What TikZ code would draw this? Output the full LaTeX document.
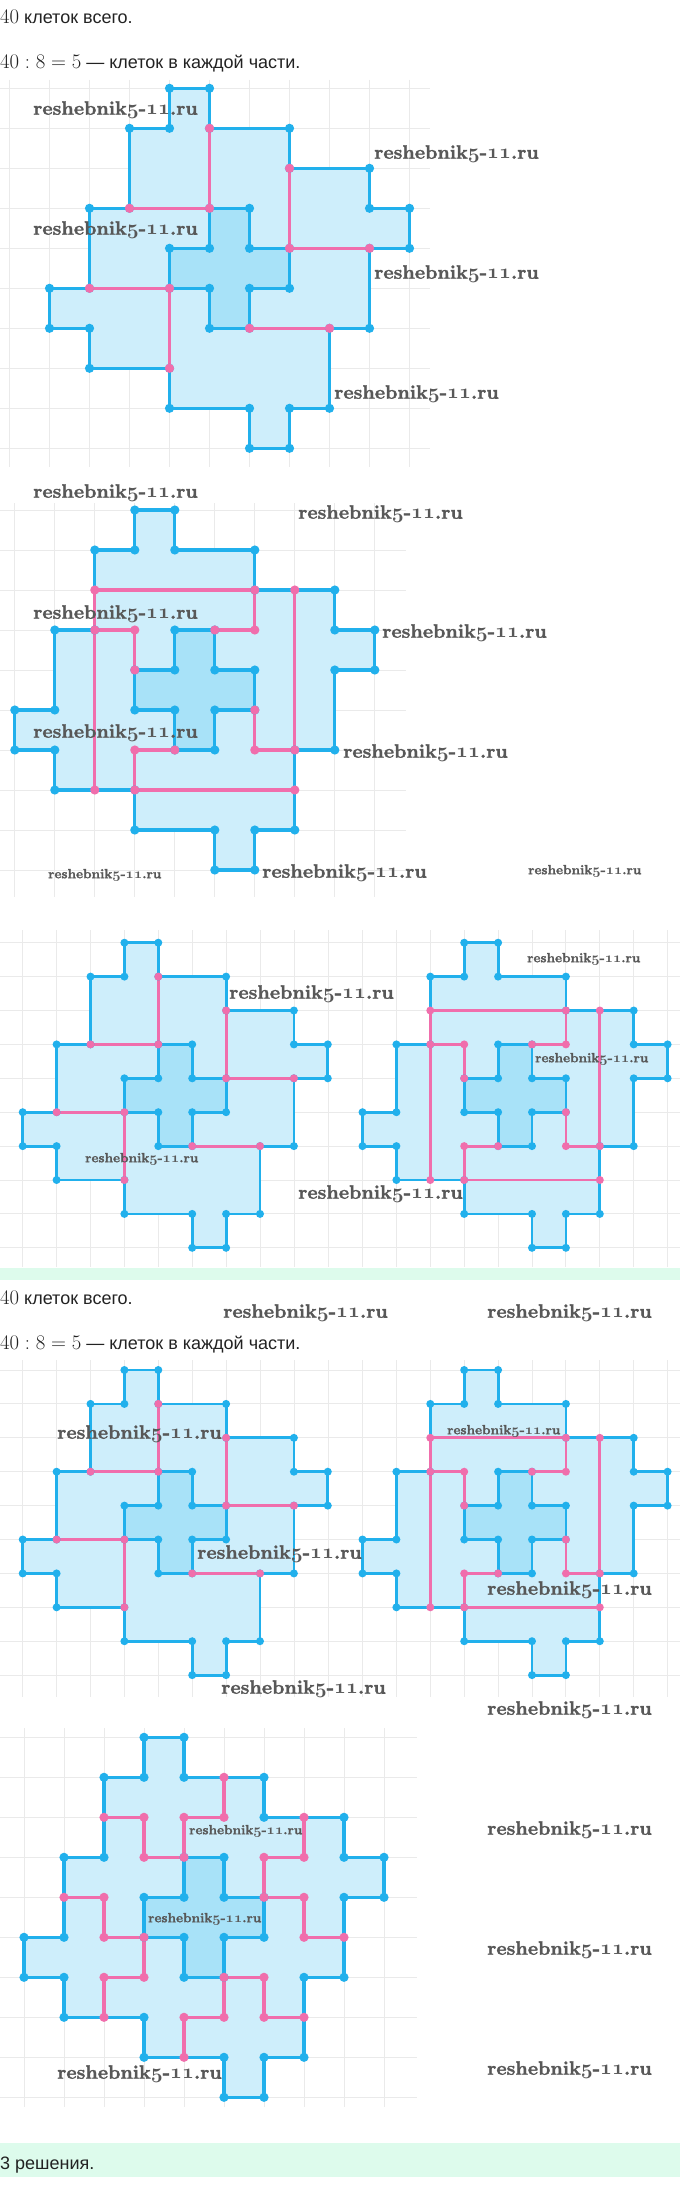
\documentclass[tikz,border=0pt]{standalone}
\usepackage{fontspec}
\newfontfamily\sansru{Liberation Sans}
\newfontfamily\wmfont{lmroman10-bold.otf}[FakeBold=1.6]
\definecolor{blc}{RGB}{33,176,236}
\definecolor{fillc}{RGB}{206,238,251}
\definecolor{crossc}{RGB}{168,226,248}
\definecolor{pkc}{RGB}{240,110,172}
\definecolor{gridc}{RGB}{234,234,234}
\definecolor{bandc}{RGB}{221,251,236}
\definecolor{txtc}{RGB}{34,34,34}
\definecolor{wmc}{RGB}{88,88,88}
\newcommand\wm{reshebnik{\boldmath$\mathnormal{5}$}-{\boldmath$\mathnormal{11}$}.ru}
\newcommand\mth{\fontsize{21.8}{22}\selectfont}
% #1 x0, #2 y0, #3 cell, #4 line width, #5 dot radius, #6 cut path, #7 pink dots
\newcommand\figshape[7]{%
\begin{scope}[shift={(#1,#2)}, x=#3pt, y=-#3pt]
 \fill[fillc] (3,0)--(4,0)--(4,1)--(6,1)--(6,2)--(8,2)--(8,3)--(9,3)--(9,4)--(8,4)--(8,6)--(7,6)--(7,8)--(6,8)--(6,9)--(5,9)--(5,8)--(3,8)--(3,7)--(1,7)--(1,6)--(0,6)--(0,5)--(1,5)--(1,3)--(2,3)--(2,1)--(3,1)--cycle;
 \fill[crossc] (4,3)--(5,3)--(5,4)--(6,4)--(6,5)--(5,5)--(5,6)--(4,6)--(4,5)--(3,5)--(3,4)--(4,4)--cycle;
 \draw[blc, line width=#4pt, line join=round] (3,0)--(4,0)--(4,1)--(6,1)--(6,2)--(8,2)--(8,3)--(9,3)--(9,4)--(8,4)--(8,6)--(7,6)--(7,8)--(6,8)--(6,9)--(5,9)--(5,8)--(3,8)--(3,7)--(1,7)--(1,6)--(0,6)--(0,5)--(1,5)--(1,3)--(2,3)--(2,1)--(3,1)--cycle;
 \draw[blc, line width=#4pt, line join=round] (4,3)--(5,3)--(5,4)--(6,4)--(6,5)--(5,5)--(5,6)--(4,6)--(4,5)--(3,5)--(3,4)--(4,4)--cycle;
 \draw[pkc, line width=#4pt, line join=round, line cap=round] #6;
 \foreach \a/\b in {3/0,4/0,4/1,6/1,6/2,8/2,8/3,9/3,9/4,8/4,8/6,7/6,7/8,6/8,6/9,5/9,5/8,3/8,3/7,1/7,1/6,0/6,0/5,1/5,1/3,2/3,2/1,3/1,4/3,5/3,5/4,6/4,6/5,5/5,5/6,4/6,4/5,3/5,3/4,4/4}
   \fill[blc] (\a,\b) circle[radius=#5pt];
 \foreach \a/\b in {#7}
   \fill[pkc] (\a,\b) circle[radius=#5pt];
\end{scope}}
\tikzset{
 txt/.style={anchor=base west, inner sep=0pt, text=txtc, font=\fontsize{18}{20}\selectfont\sansru},
 wmL/.style={anchor=west, inner sep=0pt, text=wmc, font=\fontsize{19.4}{20}\selectfont\wmfont},
 wmS/.style={anchor=west, inner sep=0pt, text=wmc, font=\fontsize{13.3}{14}\selectfont\wmfont},
 gl/.style={gridc, line width=0.9pt}
}
\begin{document}
\begin{tikzpicture}[x=1pt, y=-1pt]
\useasboundingbox (0,0) rectangle (680,2210);
\fill[white] (0,0) rectangle (680,2210);
% bands
\fill[bandc] (0,1268) rectangle (680,1280);
\fill[bandc] (0,2143) rectangle (680,2177);
% grids
\foreach \k in {0,...,10} \draw[gl] ({9.5+40*\k},80)--({9.5+40*\k},467);
\foreach \k in {0,...,9} \draw[gl] (0,{88.3+40*\k})--(430,{88.3+40*\k});
\foreach \k in {0,...,9} \draw[gl] ({14.8+40*\k},503)--({14.8+40*\k},897);
\foreach \k in {0,...,9} \draw[gl] (0,{510+40*\k})--(406,{510+40*\k});
\foreach \k in {0,...,19} \draw[gl] ({22.7+33.95*\k},930)--({22.7+33.95*\k},1267);
\foreach \k in {0,...,9} \draw[gl] (0,{942.7+33.9*\k})--(680,{942.7+33.9*\k});
\foreach \k in {0,...,19} \draw[gl] ({22.7+33.95*\k},1360)--({22.7+33.95*\k},1697);
\foreach \k in {0,...,9} \draw[gl] (0,{1370+33.9*\k})--(680,{1370+33.9*\k});
\foreach \k in {0,...,9} \draw[gl] ({24+40*\k},1728)--({24+40*\k},2107);
\foreach \k in {0,...,9} \draw[gl] (0,{1737.3+40*\k})--(417,{1737.3+40*\k});
% texts
\node[txt] (t1) at (0,24) {{\mth$40$} клеток всего.};
\node[txt] (t2) at (0,69) {{\mth$40:8=5$} — клеток в каждой части.};
\node[txt] (t3) at (0,1304) {{\mth$40$} клеток всего.};
\node[txt] (t4) at (0,1349) {{\mth$40:8=5$} — клеток в каждой части.};
\node[txt] (t5) at (0,2169) {3 решения.};
% figures
\figshape{49.5}{88.3}{40}{3.2}{4.6}{(4,1)--(4,3) (2,3)--(4,3) (6,2)--(6,4)--(8,4) (1,5)--(3,5)--(3,7) (5,6)--(7,6)}{4/1,4/3,2/3,6/2,6/4,8/4,1/5,3/5,3/7,5/6,7/6}
\figshape{14.8}{510}{40}{3.2}{4.6}{(2,2)--(6,2)--(6,3)--(5,3) (7,2)--(7,6) (2,2)--(2,7) (2,3)--(3,3)--(3,4) (4,6)--(3,6)--(3,7) (3,7)--(7,7) (6,5)--(6,6)--(7,6)}{2/2,6/2,7/2,6/3,5/3,2/3,3/3,3/4,3/6,4/6,3/7,2/7,7/7,6/5,6/6,7/6}
\figshape{22.7}{942.7}{33.9}{2.8}{4.0}{(4,1)--(4,3) (2,3)--(4,3) (6,2)--(6,4)--(8,4) (1,5)--(3,5)--(3,7) (5,6)--(7,6)}{4/1,4/3,2/3,6/2,6/4,8/4,1/5,3/5,3/7,5/6,7/6}
\figshape{362.5}{942.7}{33.9}{2.8}{4.0}{(2,2)--(6,2)--(6,3)--(5,3) (7,2)--(7,6) (2,2)--(2,7) (2,3)--(3,3)--(3,4) (4,6)--(3,6)--(3,7) (3,7)--(7,7) (6,5)--(6,6)--(7,6)}{2/2,6/2,7/2,6/3,5/3,2/3,3/3,3/4,3/6,4/6,3/7,2/7,7/7,6/5,6/6,7/6}
\figshape{22.7}{1370}{33.9}{2.8}{4.0}{(4,1)--(4,3) (2,3)--(4,3) (6,2)--(6,4)--(8,4) (1,5)--(3,5)--(3,7) (5,6)--(7,6)}{4/1,4/3,2/3,6/2,6/4,8/4,1/5,3/5,3/7,5/6,7/6}
\figshape{362.5}{1370}{33.9}{2.8}{4.0}{(2,2)--(6,2)--(6,3)--(5,3) (7,2)--(7,6) (2,2)--(2,7) (2,3)--(3,3)--(3,4) (4,6)--(3,6)--(3,7) (3,7)--(7,7) (6,5)--(6,6)--(7,6)}{2/2,6/2,7/2,6/3,5/3,2/3,3/3,3/4,3/6,4/6,3/7,2/7,7/7,6/5,6/6,7/6}
\figshape{24}{1737.3}{40}{3.2}{4.6}{(5,1)--(5,2) (2,2)--(3,2)--(3,3)--(4,3) (4,2)--(5,2) (4,2)--(4,3) (7,2)--(7,3)--(6,3)--(6,4)--(7,4)--(7,5)--(8,5) (1,4)--(2,4)--(2,5)--(3,5)--(3,6)--(2,6)--(2,7) (6,6)--(5,6)--(5,7)--(4,7)--(4,8) (6,6)--(6,7)--(7,7)}{5/1,5/2,4/2,4/3,3/2,2/2,3/3,7/2,7/3,6/3,6/4,7/4,7/5,8/5,1/4,2/4,2/5,3/5,3/6,2/6,2/7,5/6,6/6,5/7,4/7,4/8,6/7,7/7}
% watermarks
\node[wmL] (w1) at (33,110) {\wm};
\node[wmL] (w2) at (374,154) {\wm};
\node[wmL] (w3) at (33,230) {\wm};
\node[wmL] (w4) at (374,274) {\wm};
\node[wmL] (w5) at (334,394) {\wm};
\node[wmL] (w6) at (33,493) {\wm};
\node[wmL] (w7) at (298,514) {\wm};
\node[wmL] (w8) at (33,614) {\wm};
\node[wmL] (w9) at (382,633) {\wm};
\node[wmL] (w10) at (33,733) {\wm};
\node[wmL] (w11) at (343,753) {\wm};
\node[wmS] (w12) at (48,875) {\wm};
\node[wmL] (w13) at (262,873) {\wm};
\node[wmS] (w14) at (528,871) {\wm};
\node[wmS] (w15) at (527,959) {\wm};
\node[wmL] (w16) at (229,994) {\wm};
\node[wmS] (w17) at (535,1059) {\wm};
\node[wmS] (w18) at (85,1159) {\wm};
\node[wmL] (w19) at (298,1194) {\wm};
\node[wmL] (w20) at (223,1313) {\wm};
\node[wmL] (w21) at (487,1313) {\wm};
\node[wmL] (w22) at (57,1434) {\wm};
\node[wmS] (w23) at (447,1431) {\wm};
\node[wmL] (w24) at (197,1554) {\wm};
\node[wmL] (w25) at (487,1590) {\wm};
\node[wmL] (w26) at (221,1689) {\wm};
\node[wmL] (w27) at (487,1710) {\wm};
\node[wmS] (w28) at (189,1831) {\wm};
\node[wmL] (w29) at (487,1830) {\wm};
\node[wmS] (w30) at (148,1919) {\wm};
\node[wmL] (w31) at (487,1950) {\wm};
\node[wmL] (w32) at (57,2074) {\wm};
\node[wmL] (w33) at (487,2070) {\wm};
\end{tikzpicture}
\end{document}
